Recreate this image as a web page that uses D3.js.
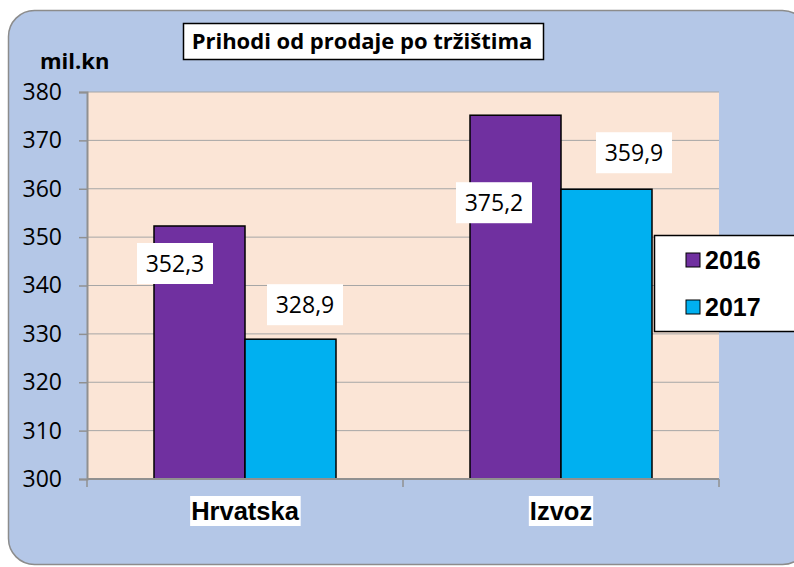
<!DOCTYPE html>
<html>
<head>
<meta charset="utf-8">
<script src="https://cdn.jsdelivr.net/npm/d3@7"></script>
<style>
  html, body { margin: 0; padding: 0; background: #fff; }
  svg { display: block; }
  .lbl { font-family: "Open Sans", sans-serif; }
  .bold { font-family: "Liberation Sans", Arial, sans-serif; font-weight: bold; }
</style>
</head>
<body>
<svg id="chart" width="794" height="567"></svg>
<script>
'use strict';

// Data.
var categories = ['Hrvatska', 'Izvoz'];
var years = ['2016', '2017'];
var values2016 = [352.3, 375.2];
var values2017 = [328.9, 359.9];
var yTicks = [300, 310, 320, 330, 340, 350, 360, 370, 380];
// manual label offsets (dx from bar left, dy from bar top), as placed in the source
var labelOffsets = [
  [[21, 37], [60, -35]],
  [[24, 87], [73, -37]]
];

var colors = {'2016': '#7030a0', '2017': '#00b0f0'};

var svg = d3.select('#chart');

var plot = {left: 87, top: 92, right: 719, bottom: 479};

// Outer frame
svg.append('rect')
  .attr('x', 8.5).attr('y', 10.5)
  .attr('width', 800).attr('height', 554)
  .attr('rx', 26).attr('ry', 26)
  .attr('fill', '#b4c7e7')
  .attr('stroke', '#8c8c8c')
  .attr('stroke-width', 1.5);

var x0 = d3.scaleBand()
  .domain(categories)
  .range([plot.left, plot.right]);

var x1 = d3.scaleBand()
  .domain(years)
  .range([0, 182]);

var y = d3.scaleLinear()
  .domain([300, 380])
  .range([plot.bottom, plot.top]);

// Plot background
svg.append('rect')
  .attr('x', plot.left).attr('y', plot.top)
  .attr('width', plot.right - plot.left)
  .attr('height', plot.bottom - plot.top)
  .attr('fill', '#fbe5d6');

// Gridlines
svg.append('g')
  .selectAll('line')
  .data(yTicks.slice(1))
  .enter().append('line')
  .attr('x1', plot.left).attr('x2', plot.right)
  .attr('y1', function(d) { return y(d); })
  .attr('y2', function(d) { return y(d); })
  .attr('stroke', '#a6a6a6')
  .attr('stroke-width', 1);

// Y axis
var yAxis = svg.append('g')
  .attr('transform', 'translate(' + plot.left + ',0)')
  .call(d3.axisLeft(y).tickValues(yTicks).tickSize(8).tickPadding(17)
    .tickFormat(d3.format('d')));
yAxis.select('.domain').attr('stroke', '#909090').attr('stroke-width', 2);
yAxis.selectAll('.tick line').attr('stroke', '#909090').attr('stroke-width', 1.5);
yAxis.selectAll('.tick text')
  .attr('class', 'lbl')
  .style('font-size', '23px')
  .attr('fill', '#000');

// Bars
var seriesValues = {'2016': values2016, '2017': values2017};
var groups = svg.append('g')
  .selectAll('g')
  .data(categories)
  .enter().append('g')
  .attr('transform', function(d) {
    return 'translate(' + (x0(d) + (x0.bandwidth() - 182) / 2) + ',0)';
  });

groups.selectAll('rect')
  .data(function(d, i) {
    return years.map(function(yr) {
      return {year: yr, value: seriesValues[yr][i]};
    });
  })
  .enter().append('rect')
  .attr('x', function(d) { return x1(d.year); })
  .attr('y', function(d) { return y(d.value); })
  .attr('width', x1.bandwidth())
  .attr('height', function(d) { return y(300) - y(d.value); })
  .attr('fill', function(d) { return colors[d.year]; })
  .attr('stroke', '#000')
  .attr('stroke-width', 1.5);

// X axis
var xAxis = svg.append('g')
  .attr('transform', 'translate(0,' + plot.bottom + ')');
xAxis.append('line')
  .attr('x1', plot.left).attr('x2', plot.right)
  .attr('stroke', '#909090').attr('stroke-width', 2);
xAxis.selectAll('.xt')
  .data([plot.left].concat(categories.map(function(c) { return x0(c) + x0.bandwidth(); })))
  .enter().append('line')
  .attr('x1', function(d) { return d; }).attr('x2', function(d) { return d; })
  .attr('y1', 0).attr('y2', 8)
  .attr('stroke', '#909090').attr('stroke-width', 1.5);

// Category labels with white boxes
categories.forEach(function(c) {
  var cx = x0(c) + x0.bandwidth() / 2;
  var t = svg.append('text')
    .attr('class', 'bold')
    .attr('x', cx).attr('y', 520)
    .attr('text-anchor', 'middle')
    .style('font-size', '25.5px')
    .text(c);
  var bb = t.node().getBBox();
  svg.insert('rect', function() { return t.node(); })
    .attr('x', bb.x - 1).attr('y', 496)
    .attr('width', bb.width + 2).attr('height', 30)
    .attr('fill', '#fff');
});

// Data labels
categories.forEach(function(c, i) {
  var gx = x0(c) + (x0.bandwidth() - 182) / 2;
  years.forEach(function(yr, j) {
    var v = seriesValues[yr][i];
    var off = labelOffsets[i][j];
    var cx = gx + x1(yr) + off[0];
    var cy = y(v) + off[1];
    svg.append('rect')
      .attr('x', cx - 38).attr('y', cy - 20)
      .attr('width', 76).attr('height', 41)
      .attr('fill', '#fff');
    svg.append('text')
      .attr('class', 'lbl')
      .attr('x', cx).attr('y', cy + 9)
      .attr('text-anchor', 'middle')
      .style('font-size', '23px')
      .text(d3.format('.1f')(v).replace('.', ','));
  });
});

// Title
svg.append('rect')
  .attr('x', 183.5).attr('y', 23.5)
  .attr('width', 360).attr('height', 36)
  .attr('fill', '#fff').attr('stroke', '#000').attr('stroke-width', 1.5);
svg.append('text')
  .attr('x', 362).attr('y', 49)
  .attr('text-anchor', 'middle')
  .style('font-family', '"Open Sans", sans-serif')
  .style('font-weight', 'bold')
  .style('font-size', '22px')
  .text('Prihodi od prodaje po tržištima');

// Axis unit
svg.append('text')
  .attr('x', 40).attr('y', 69)
  .style('font-family', '"Open Sans", sans-serif')
  .style('font-weight', 'bold')
  .style('font-size', '22px')
  .text('mil.kn');

// Legend
var legend = svg.append('g');
legend.append('rect')
  .attr('x', 654.5).attr('y', 235.5)
  .attr('width', 150).attr('height', 96)
  .attr('fill', '#fff').attr('stroke', '#000').attr('stroke-width', 1.5);
var li = legend.selectAll('.li')
  .data(years)
  .enter().append('g')
  .attr('transform', function(d, i) { return 'translate(686,' + (253 + i * 47) + ')'; });
li.append('rect')
  .attr('width', 14).attr('height', 14)
  .attr('fill', function(d) { return colors[d]; })
  .attr('stroke', '#000').attr('stroke-width', 1);
li.append('text')
  .attr('class', 'bold')
  .attr('x', 19).attr('y', 16)
  .style('font-size', '25px')
  .text(function(d) { return d; });
</script>
</body>
</html>
